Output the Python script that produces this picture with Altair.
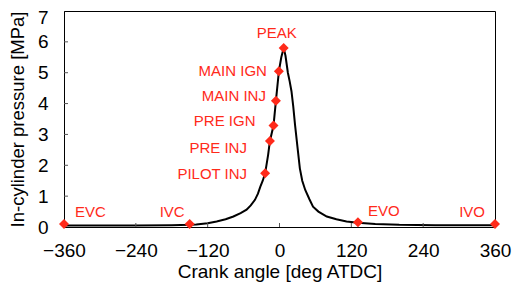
import altair as alt
import pandas as pd

# Pressure trace (crank angle deg, MPa)
crank = [-360, -300, -240, -180, -150, -139, -120, -105, -90, -77, -65, -55, -48, -41, -36, -32, -28, -24,
         -19, -16, -10, -6, -1, 3, 7, 10, 14, 17, 20, 23, 26, 30, 34, 38, 43, 50, 56, 65, 79, 95, 112, 131,
         160, 200, 260, 360]
pressure = [0.05, 0.05, 0.05, 0.06, 0.07, 0.08, 0.12, 0.18, 0.25, 0.34, 0.45, 0.56, 0.70, 0.88, 1.08, 1.31,
            1.50, 1.74, 2.34, 2.79, 3.29, 4.09, 5.05, 5.50, 5.80, 5.55, 5.00, 4.72, 4.40, 3.90, 3.30, 2.60,
            1.90, 1.50, 1.20, 0.90, 0.66, 0.50, 0.34, 0.25, 0.18, 0.14, 0.10, 0.07, 0.06, 0.06]

# Event markers
event_labels = ["EVC", "IVC", "PILOT INJ", "PRE INJ", "PRE IGN", "MAIN INJ", "MAIN IGN", "PEAK", "EVO", "IVO"]
event_angle = [-360, -150, -24, -16, -10, -6, -1, 7, 131, 360]
event_pressure = [0.10, 0.10, 1.74, 2.79, 3.29, 4.09, 5.05, 5.80, 0.15, 0.10]

x_ticks = [-360, -240, -120, 0, 120, 240, 360]
y_ticks = [0, 1, 2, 3, 4, 5, 6, 7]
x_inner_ticks = [-240, -120, 0, 120, 240]
y_inner_ticks = [1, 2, 3, 4, 5, 6]

W, H = 431, 216
RED = "#ff2a1a"
FONT = "Liberation Sans"

curve = pd.DataFrame({"angle": crank, "p": pressure})
events = pd.DataFrame({"label": event_labels, "angle": event_angle, "p": event_pressure})

xs = alt.Scale(domain=[-360, 360], nice=False, zero=False)
ys = alt.Scale(domain=[0, 7], nice=False)

xaxis = alt.Axis(values=x_ticks, title="Crank angle [deg ATDC]", grid=False, ticks=False,
                 labelPadding=14, labelFontSize=19, titleFontSize=19, titleFontWeight="normal",
                 labelColor="black", titleColor="black", domainColor="black", titlePadding=2,
                 labelFont=FONT, titleFont=FONT, labelFlush=False)
yaxis = alt.Axis(values=y_ticks, title="In-cylinder pressure [MPa]", grid=False, ticks=False,
                 labelPadding=16, labelFontSize=19, titleFontSize=18.5, titleFontWeight="normal",
                 labelColor="black", titleColor="black", domainColor="black", titlePadding=10,
                 labelFont=FONT, titleFont=FONT, labelFlush=False,
                 labelOffset={"condition": {"test": "datum.value === 7", "value": 6}, "value": 0})

X = lambda f: alt.X(f, scale=xs, axis=xaxis)
Y = lambda f: alt.Y(f, scale=ys, axis=yaxis)

line = alt.Chart(curve).mark_line(color="black", strokeWidth=2).encode(
    x=X("angle:Q"), y=Y("p:Q"))

xt = alt.Chart(pd.DataFrame({"v": x_inner_ticks})).mark_rule(color="#555555", strokeWidth=1).encode(
    x=X("v:Q"), y=alt.value(H), y2=alt.value(H - 4))
yt = alt.Chart(pd.DataFrame({"v": y_inner_ticks})).mark_rule(color="#555555", strokeWidth=1).encode(
    y=Y("v:Q"), x=alt.value(0), x2=alt.value(4))

pts = alt.Chart(events).mark_point(shape="diamond", filled=True, size=100, color=RED, opacity=1).encode(
    x=X("angle:Q"), y=Y("p:Q"))

offsets = {
    "EVC": ("left", 11, -12),
    "IVC": ("right", -5, -12),
    "PILOT INJ": ("right", -18, 1),
    "PRE INJ": ("right", -23, 7),
    "PRE IGN": ("right", -18, -4),
    "MAIN INJ": ("right", -10, -5),
    "MAIN IGN": ("right", -12, 0),
    "PEAK": ("center", -7, -15),
    "EVO": ("left", 10, -11),
    "IVO": ("right", -10, -12),
}

layers = [line, xt, yt, pts]
for name, (al, dx, dy) in offsets.items():
    layers.append(
        alt.Chart(events).transform_filter(alt.datum.label == name).mark_text(
            align=al, baseline="middle", dx=dx, dy=dy, fontSize=15, font=FONT, color=RED
        ).encode(x=X("angle:Q"), y=Y("p:Q"), text="label:N")
    )

chart = alt.layer(*layers).properties(
    width=W, height=H,
    autosize=alt.AutoSizeParams(type="none"),
    padding={"left": 56, "top": 3, "right": 18, "bottom": 57},
).configure_view(stroke="black", strokeWidth=1).configure_axis(domainWidth=1)

chart.save("out.html", embed_options={"renderer": "svg", "actions": False})
